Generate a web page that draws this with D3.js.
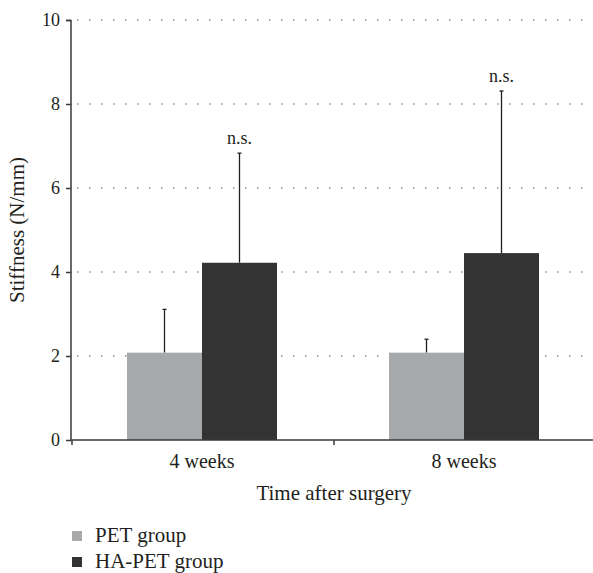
<!DOCTYPE html>
<html>
<head>
<meta charset="utf-8">
<script src="https://cdn.jsdelivr.net/npm/d3@7"></script>
<style>
  body { margin: 0; background: #fff; }
  text { font-family: "Liberation Serif", "DejaVu Serif", serif; fill: #231f20; }
</style>
</head>
<body>
<div id="chart"></div>
<script>
const categories = ["4 weeks", "8 weeks"];
const groups = ["PET group", "HA-PET group"];
const petValues = [2.08, 2.08];
const petErrors = [1.03, 0.32];
const haValues = [4.22, 4.45];
const haErrors = [2.61, 3.86];
const sigLabels = ["n.s.", "n.s."];
const yTicks = [0, 2, 4, 6, 8, 10];
const colors = ["#a7a8aa", "#333333"];

const width = 593, height = 573;
const margin = { top: 20, right: 0, bottom: 133, left: 71 };
const innerW = width - margin.left - margin.right;
const innerH = height - margin.top - margin.bottom;

const svg = d3.select("#chart")
  .append("svg")
  .attr("width", width)
  .attr("height", height);

const g = svg.append("g")
  .attr("transform", `translate(${margin.left},${margin.top})`);

const x = d3.scaleBand()
  .domain(categories)
  .range([0, innerW + 2]);

const barW = 75;
const xSub = d3.scaleBand()
  .domain(groups)
  .range([0, barW * 2]);

const y = d3.scaleLinear()
  .domain([0, 10])
  .range([innerH, 0]);

// gridlines
g.append("g")
  .selectAll("line")
  .data(yTicks.filter(d => d > 0))
  .join("line")
  .attr("x1", 0)
  .attr("x2", innerW)
  .attr("y1", d => y(d))
  .attr("y2", d => y(d))
  .attr("stroke", "#8a8a8a")
  .attr("stroke-width", 1.3)
  .attr("stroke-dasharray", "1.5,10.5")
  .attr("stroke-dashoffset", -6);

const data = [];
categories.forEach((c, i) => {
  data.push({ cat: c, group: groups[0], value: petValues[i], err: petErrors[i], color: colors[0] });
  data.push({ cat: c, group: groups[1], value: haValues[i], err: haErrors[i], color: colors[1], sig: sigLabels[i] });
});

const bx = d => x(d.cat) + x.bandwidth() / 2 - barW + xSub(d.group);

// error bars
const eb = g.append("g");
eb.selectAll("line.stem")
  .data(data)
  .join("line")
  .attr("class", "stem")
  .attr("x1", d => bx(d) + barW / 2)
  .attr("x2", d => bx(d) + barW / 2)
  .attr("y1", d => y(d.value))
  .attr("y2", d => y(d.value + d.err))
  .attr("stroke", "#231f20")
  .attr("stroke-width", 1.3);
eb.selectAll("line.cap")
  .data(data)
  .join("line")
  .attr("class", "cap")
  .attr("x1", d => bx(d) + barW / 2 - 2)
  .attr("x2", d => bx(d) + barW / 2 + 2)
  .attr("y1", d => y(d.value + d.err))
  .attr("y2", d => y(d.value + d.err))
  .attr("stroke", "#231f20")
  .attr("stroke-width", 1.3);

// bars
g.append("g")
  .selectAll("rect")
  .data(data)
  .join("rect")
  .attr("x", d => bx(d))
  .attr("y", d => y(d.value))
  .attr("width", barW)
  .attr("height", d => y(0) - y(d.value))
  .attr("fill", d => d.color);

// significance labels
g.append("g")
  .selectAll("text")
  .data(data.filter(d => d.sig))
  .join("text")
  .attr("x", d => bx(d) + barW / 2)
  .attr("y", d => y(d.value + d.err) - 9)
  .attr("text-anchor", "middle")
  .style("font-size", "18px")
  .text(d => d.sig);

// y axis
const yAxis = g.append("g")
  .call(d3.axisLeft(y).tickValues(yTicks).tickSize(5).tickPadding(6));
yAxis.selectAll("text").style("font-size", "18px");
yAxis.selectAll("line, path").attr("stroke", "#3a3a3a").attr("stroke-width", 1.5);
yAxis.select(".domain").attr("d", `M-5,0.5H0V${innerH}`);

// x axis
const xAxis = g.append("g")
  .attr("transform", `translate(0,${innerH})`);
xAxis.append("line")
  .attr("x1", 0).attr("x2", innerW)
  .attr("stroke", "#3a3a3a").attr("stroke-width", 1.5);
xAxis.selectAll("line.tick")
  .data(categories)
  .join("line")
  .attr("class", "tick")
  .attr("x1", d => x(d) + 1).attr("x2", d => x(d) + 1)
  .attr("y1", 0).attr("y2", 5)
  .attr("stroke", "#3a3a3a").attr("stroke-width", 1.5);
xAxis.selectAll("text")
  .data(categories)
  .join("text")
  .attr("x", d => x(d) + x.bandwidth() / 2)
  .attr("y", 28)
  .attr("text-anchor", "middle")
  .style("font-size", "20px")
  .text(d => d);

// axis titles
svg.append("text")
  .attr("x", margin.left + innerW / 2 + 2)
  .attr("y", 500)
  .attr("text-anchor", "middle")
  .style("font-size", "21px")
  .text("Time after surgery");

svg.append("text")
  .attr("transform", `translate(24,${margin.top + innerH / 2}) rotate(-90)`)
  .attr("text-anchor", "middle")
  .style("font-size", "21px")
  .text("Stiffness (N/mm)");

// legend
const legend = svg.append("g").attr("transform", "translate(72,531)");
const li = legend.selectAll("g")
  .data(groups)
  .join("g")
  .attr("transform", (d, i) => `translate(0,${i * 26})`);
li.append("rect")
  .attr("width", 10).attr("height", 10)
  .attr("fill", (d, i) => colors[i]);
li.append("text")
  .attr("x", 23).attr("y", 11)
  .style("font-size", "21px")
  .text(d => d);
</script>
</body>
</html>
